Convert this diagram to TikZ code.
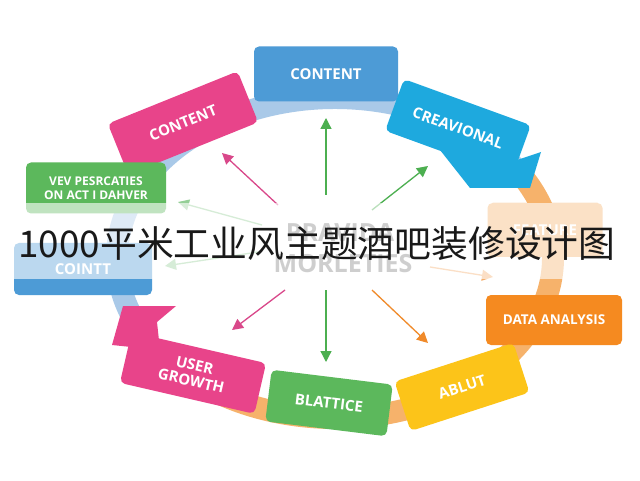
\documentclass[tikz,border=0pt]{standalone}
\usepackage{fontspec}
\setmainfont{Open Sans}
\newfontfamily\cjkfont{Noto Sans CJK SC}
\usetikzlibrary{shapes, arrows.meta, calc, positioning}

\definecolor{ringblue}{HTML}{A9C9E8}
\definecolor{ringorange}{HTML}{F6B26B}
\definecolor{boxblue}{HTML}{4D9BD6}
\definecolor{boxpink}{HTML}{E8448A}
\definecolor{boxcyan}{HTML}{1EA9DE}
\definecolor{boxgreen}{HTML}{5CB85C}
\definecolor{boxorange}{HTML}{F58A20}
\definecolor{boxyellow}{HTML}{FCC419}
\definecolor{raypink}{HTML}{D9488A}
\definecolor{raygreen}{HTML}{4CAF50}
\definecolor{rayorange}{HTML}{F08A2A}

\begin{document}
\begin{tikzpicture}[x=1pt, y=1pt, >={Triangle[length=11pt, width=11pt]}]
    \tikzstyle{card} = [rectangle, rounded corners=5pt, inner sep=0pt,
	text=white, align=center, minimum height=52pt,
	font=\bfseries\fontsize{15}{17}\selectfont]
    \tikzstyle{ring} = [line width=22pt]
    \tikzstyle{ray} = [line width=1.3pt]

    \useasboundingbox (0,0) rectangle (640,480);
    \fill[white] (0,0) rectangle (640,480);
    \coordinate (ringc) at (335,222);

    % the ring
    \draw[ring, ringorange] (ringc) ++(35:218pt and 160pt)
        arc[start angle=35, end angle=-140, x radius=218pt, y radius=160pt];
    \draw[ring, ringblue] (ringc) ++(35:218pt and 160pt)
        arc[start angle=35, end angle=205, x radius=218pt, y radius=160pt];

    % arrow heads on the ring
    \fill[boxcyan] (440,330) -- (517,320) -- (541,328) -- (530,292) -- (470,292) -- cycle;
    \fill[boxpink] (112,135) -- (123,174) -- (176,174) -- (157,158) -- (160,130) -- cycle;

		\path
			node[card, fill=boxblue, minimum width=144pt, minimum height=55pt] (top) at (326,406) {CONTENT}
			node[card, fill=boxpink, minimum width=140pt, minimum height=55pt, rotate=22] (content) at (183,357) {CONTENT}
			node[card, fill=boxcyan, minimum width=135pt, minimum height=55pt, rotate=-20] (creat) at (458,352) {CREAVIONAL}
			node[card, fill=boxgreen, minimum width=140pt, minimum height=51pt,
			     font=\bfseries\fontsize{12}{14}\selectfont] (vev) at (96,292) {VEV PESRCATIES\\ON ACT I DAHVER}
			node[card, fill=boxblue, minimum width=138pt] (cointt) at (83,211) {COINTT}
			node[card, fill=ringorange, minimum width=115pt, minimum height=54pt] (feature) at (545,250) {FEATURE}
			node[card, fill=boxorange, minimum width=136pt, minimum height=50pt,
			     font=\bfseries\fontsize{13.5}{15}\selectfont] (data) at (554,160) {DATA ANALYSIS}
			node[card, fill=boxyellow, minimum width=125pt, rotate=18] (ablut) at (462,93) {ABLUT}
			node[card, fill=boxgreen, minimum width=122pt, rotate=-7] (blattice) at (329,77) {BLATTICE}
			node[card, fill=boxpink, minimum width=138pt, rotate=-13,
			     font=\bfseries\fontsize{15}{16}\selectfont] (user) at (193,107) {USER\\GROWTH}
		;

    % rays from the middle
    \coordinate (t1) at (326,285);  \coordinate (h1) at (326,362);
    \coordinate (t2) at (278,275);  \coordinate (h2) at (222,327);
    \coordinate (t3) at (372,270);  \coordinate (h3) at (428,314);
    \coordinate (t4) at (262,255);  \coordinate (h4) at (178,278);
    \coordinate (t5) at (258,228);  \coordinate (h5) at (165,214);
    \coordinate (t6) at (430,213);  \coordinate (h6) at (493,203);
    \coordinate (t7) at (285,190);  \coordinate (h7) at (232,150);
    \coordinate (t8) at (326,190);  \coordinate (h8) at (326,118);
    \coordinate (t9) at (372,190);  \coordinate (h9) at (428,137);

		\path[->, ray]
			(t1) edge[raygreen] (h1)
			(t2) edge[raypink] (h2)
			(t3) edge[raygreen] (h3)
			(t4) edge[raygreen!60] (h4)
			(t5) edge[raygreen!60] (h5)
			(t6) edge[rayorange!70] (h6)
			(t7) edge[raypink] (h7)
			(t8) edge[raygreen] (h8)
			(t9) edge[rayorange] (h9)
		;

    \node[text=black!50, font=\bfseries\fontsize{25}{27}\selectfont] (prav) at (340,247) {PRAVIDA};
    \node[text=black!50, font=\bfseries\fontsize{25}{27}\selectfont] (morl) at (343,216) {MORLETIES};

    % the light band and the title
    \fill[white, opacity=0.62] (0,201) rectangle (640,277);
    \node[text=black!90, font=\cjkfont\fontsize{36.8}{38}\selectfont] (title) at (317,236) {1000平米工业风主题酒吧装修设计图};
\end{tikzpicture}
\end{document}
